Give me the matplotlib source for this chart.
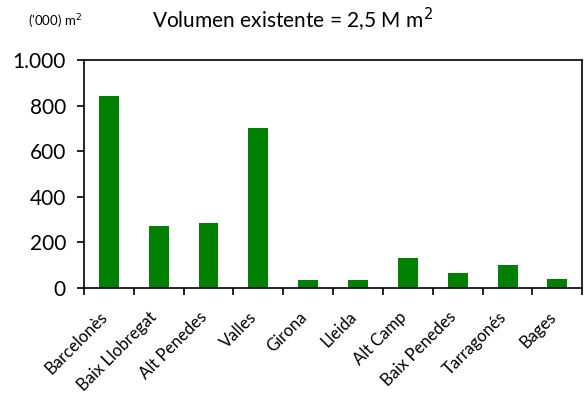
import numpy as np
import matplotlib
matplotlib.use("Agg")
import matplotlib.pyplot as plt
from matplotlib.transforms import ScaledTranslation

plt.rcParams['font.family'] = ['Lato', 'DejaVu Sans']

comarcas = ['Barcelonès', 'Baix Llobregat', 'Alt Penedes', 'Valles', 'Girona',
            'Lleida', 'Alt Camp', 'Baix Penedes', 'Tarragonés', 'Bages']
volumen = [843, 271, 287, 704, 35, 35, 130, 65, 100, 39]

fig = plt.figure(figsize=(5.87, 3.93), dpi=100)
ax = fig.add_axes([0.143, 0.267, 0.849, 0.58])

x = np.arange(len(comarcas))
ax.bar(x, volumen, width=0.4, color='#008000')

ax.set_xlim(-0.5, len(comarcas) - 0.5)
ax.set_ylim(0, 1000)
ax.set_yticks([0, 200, 400, 600, 800, 1000])
ax.set_yticklabels(['0', '200', '400', '600', '800', '1.000'], fontsize=15)

# category labels centred on bars, tick marks between categories
ax.set_xticks(x)
ax.set_xticklabels(comarcas, rotation=45, ha='right', rotation_mode='anchor', fontsize=12)
ax.set_xticks(np.arange(-0.5, len(comarcas)), minor=True)
ax.tick_params(axis='x', which='major', length=0, pad=15)
ax.tick_params(axis='x', which='minor', length=5, width=1.2, direction='out')
ax.tick_params(axis='y', length=5, width=1.2, direction='out', pad=8)

shift = ScaledTranslation(-7 / 72, 0, fig.dpi_scale_trans)
for lbl in ax.get_xticklabels():
    lbl.set_transform(lbl.get_transform() + shift)

for s in ax.spines.values():
    s.set_linewidth(1.2)

fig.text(0.498, 0.948, 'Volumen existente = 2,5 M m$^2$', ha='center', va='center', fontsize=15)
fig.text(0.094, 0.945, "('000) m$^2$", ha='center', va='center', fontsize=9.5)

fig.savefig('out.png', dpi=100)
